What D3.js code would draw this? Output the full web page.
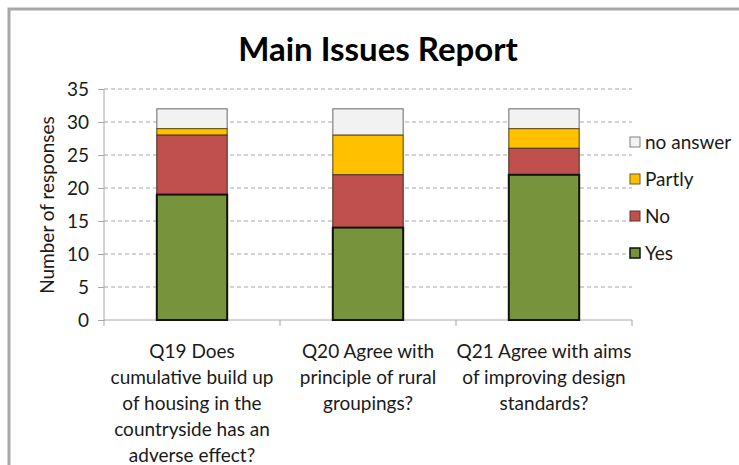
<!DOCTYPE html>
<html>
<head>
<meta charset="utf-8">
<script src="https://cdn.jsdelivr.net/npm/d3@7"></script>
<style>
   body { margin: 0; background: #fff; }
   text { font-family: Lato, "Open Sans", sans-serif; fill: #1a1a1a; }
   .axis path, .axis line { stroke: #a6a6a6; }
   .grid line { stroke: #a6a6a6; stroke-dasharray: 4,3; }
</style>
</head>
<body>
<svg id="chart" width="739" height="465"></svg>
<script>
var categories = ["Q19", "Q20", "Q21"];
var categoryLabels = [
   ["Q19 Does", "cumulative build up", "of housing in the", "countryside has an", "adverse effect?"],
   ["Q20 Agree with", "principle of rural", "groupings?"],
   ["Q21 Agree with aims", "of improving design", "standards?"]
];
var seriesNames = ["Yes", "No", "Partly", "no answer"];
var yesValues = [19, 14, 22];
var noValues = [9, 8, 4];
var partlyValues = [1, 6, 3];
var noAnswerValues = [3, 4, 3];
var yTicks = [0, 5, 10, 15, 20, 25, 30, 35];

var colors = {"Yes": "#77933c", "No": "#c0504d", "Partly": "#ffc000", "no answer": "#f2f2f2"};
var strokes = {"Yes": "#111", "No": "#5a3a2a", "Partly": "#6b5a20", "no answer": "#808080"};

var rows = categories.map(function (c, i) {
   return {cat: c, "Yes": yesValues[i], "No": noValues[i], "Partly": partlyValues[i], "no answer": noAnswerValues[i]};
});

var svg = d3.select("#chart"),
   margin = {top: 89, left: 104},
   width = 528,
   height = 231;

// outer frame, cut off by the right and bottom edges
svg.append("rect")
   .attr("x", 9).attr("y", 9)
   .attr("width", 760).attr("height", 480)
   .attr("fill", "none")
   .attr("stroke", "#a8a8a8")
   .attr("stroke-width", 3);

svg.append("text")
   .attr("x", 378).attr("y", 61)
   .attr("text-anchor", "middle")
   .style("font-size", "33px")
   .style("font-weight", "bold")
   .style("fill", "#000")
   .text("Main Issues Report");

var g = svg.append("g").attr("transform", "translate(" + margin.left + "," + margin.top + ")");

var x = d3.scaleBand().domain(categories).range([0, width]).paddingInner(0.6).paddingOuter(0.3);
var y = d3.scaleLinear().domain([0, 35]).range([height, 0]);

g.append("g")
   .attr("class", "grid")
   .selectAll("line")
   .data(yTicks.filter(function (d) { return d > 0; }))
   .enter().append("line")
   .attr("x1", 0).attr("x2", width)
   .attr("y1", function (d) { return y(d); })
   .attr("y2", function (d) { return y(d); });

g.append("g")
   .attr("class", "axis")
   .call(d3.axisLeft(y).tickValues(yTicks).tickSize(6).tickPadding(9))
   .call(function (a) { a.select(".domain").attr("d", "M0," + (height + 1) + "V" + y(35)); })
   .selectAll("text")
   .style("font-size", "19px")
   .style("font-family", "Lato, sans-serif")
   .style("fill", "#1a1a1a");

// x axis with ticks on band boundaries
var xAxis = g.append("g").attr("class", "axis").attr("transform", "translate(0," + height + ")");
xAxis.append("line").attr("x1", 0).attr("x2", width);
xAxis.selectAll(".tk")
   .data(d3.range(categories.length + 1))
   .enter().append("line")
   .attr("x1", function (i) { return i * width / categories.length; })
   .attr("x2", function (i) { return i * width / categories.length; })
   .attr("y1", 0).attr("y2", 6);

var stack = d3.stack().keys(seriesNames);
var layers = stack(rows);

g.selectAll(".layer")
   .data(layers.slice().reverse())
   .enter().append("g")
   .attr("class", "layer")
   .selectAll("rect")
   .data(function (d) { return d.map(function (p) { p.key = d.key; return p; }); })
   .enter().append("rect")
   .attr("x", function (d) { return x(d.data.cat); })
   .attr("width", x.bandwidth())
   .attr("y", function (d) { return y(d[1]); })
   .attr("height", function (d) { return y(d[0]) - y(d[1]); })
   .attr("fill", function (d) { return colors[d.key]; })
   .attr("stroke", function (d) { return strokes[d.key]; })
   .attr("stroke-width", function (d) { return d.key === "Yes" ? 2 : 1.2; });

// category labels
categoryLabels.forEach(function (lines, i) {
   var t = g.append("text")
      .attr("x", x(categories[i]) + x.bandwidth() / 2)
      .attr("y", height + 38)
      .attr("text-anchor", "middle")
      .style("font-size", "19px");
   lines.forEach(function (s, j) {
      t.append("tspan").attr("x", x(categories[i]) + x.bandwidth() / 2).attr("dy", j ? 26 : 0).text(s);
   });
});

svg.append("text")
   .attr("transform", "translate(54,205) rotate(-90)")
   .attr("text-anchor", "middle")
   .style("font-size", "19px")
   .text("Number of responses");

// legend
var legend = svg.append("g").attr("transform", "translate(630,0)");
var legendOrder = seriesNames.slice().reverse();
legend.selectAll("g")
   .data(legendOrder)
   .enter().append("g")
   .attr("transform", function (d, i) { return "translate(0," + (142 + i * 37) + ")"; })
   .each(function (d) {
      var s = d3.select(this);
      s.append("rect").attr("x", 0).attr("y", -5).attr("width", 10).attr("height", 10)
         .attr("fill", colors[d]).attr("stroke", strokes[d]).attr("stroke-width", d === "Yes" ? 1.5 : 1);
      s.append("text").attr("x", 15).attr("y", 7).style("font-size", "19px").text(d);
   });
</script>
</body>
</html>
